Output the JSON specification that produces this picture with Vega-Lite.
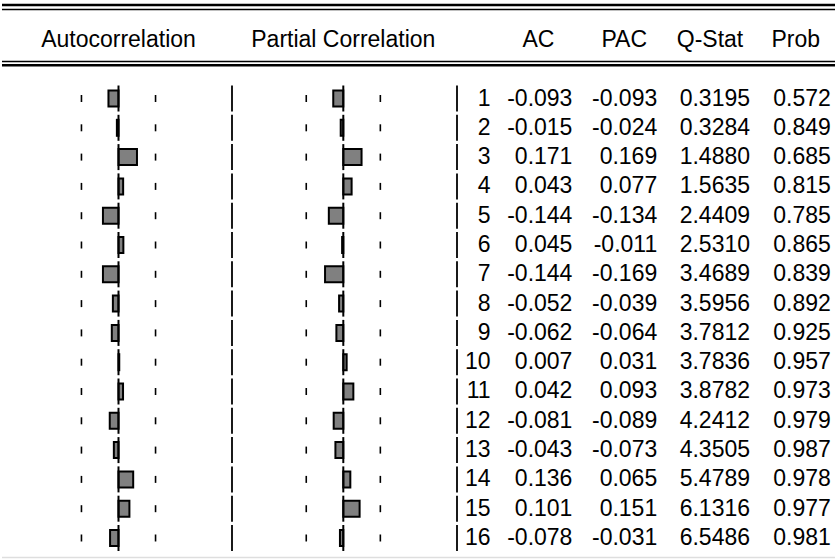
{
  "$schema": "https://vega.github.io/schema/vega-lite/v6.json",
  "padding": 0,
  "spacing": 0,
  "bounds": "flush",
  "background": "white",
  "config": {
    "view": {"stroke": null},
    "text": {"font": "Liberation Sans", "fontSize": 23, "color": "black"},
    "locale": {"number": {"decimal": ".", "thousands": ",", "grouping": [3], "currency": ["$", ""], "minus": "-"}}
  },
  "datasets": {
    "corr": [
      {"lag": 1, "AC": -0.093, "PAC": -0.093, "Q": 0.3195, "Prob": 0.572},
      {"lag": 2, "AC": -0.015, "PAC": -0.024, "Q": 0.3284, "Prob": 0.849},
      {"lag": 3, "AC": 0.171, "PAC": 0.169, "Q": 1.4880, "Prob": 0.685},
      {"lag": 4, "AC": 0.043, "PAC": 0.077, "Q": 1.5635, "Prob": 0.815},
      {"lag": 5, "AC": -0.144, "PAC": -0.134, "Q": 2.4409, "Prob": 0.785},
      {"lag": 6, "AC": 0.045, "PAC": -0.011, "Q": 2.5310, "Prob": 0.865},
      {"lag": 7, "AC": -0.144, "PAC": -0.169, "Q": 3.4689, "Prob": 0.839},
      {"lag": 8, "AC": -0.052, "PAC": -0.039, "Q": 3.5956, "Prob": 0.892},
      {"lag": 9, "AC": -0.062, "PAC": -0.064, "Q": 3.7812, "Prob": 0.925},
      {"lag": 10, "AC": 0.007, "PAC": 0.031, "Q": 3.7836, "Prob": 0.957},
      {"lag": 11, "AC": 0.042, "PAC": 0.093, "Q": 3.8782, "Prob": 0.973},
      {"lag": 12, "AC": -0.081, "PAC": -0.089, "Q": 4.2412, "Prob": 0.979},
      {"lag": 13, "AC": -0.043, "PAC": -0.073, "Q": 4.3505, "Prob": 0.987},
      {"lag": 14, "AC": 0.136, "PAC": 0.065, "Q": 5.4789, "Prob": 0.978},
      {"lag": 15, "AC": 0.101, "PAC": 0.151, "Q": 6.1316, "Prob": 0.977},
      {"lag": 16, "AC": -0.078, "PAC": -0.031, "Q": 6.5486, "Prob": 0.981}
    ],
    "one": [{}],
    "heads": [
      {"col": "AC", "label": "AC"},
      {"col": "PAC", "label": "PAC"},
      {"col": "Q", "label": "Q-Stat"},
      {"col": "Prob", "label": "Prob"}
    ]
  },
  "hconcat": [
    {
      "width": 230,
      "height": 559,
      "layer": [
        {
          "data": {"name": "one"},
          "mark": {"type": "rule", "strokeWidth": 2.5, "color": "black"},
          "encoding": {"y": {"datum": -2.191, "type": "quantitative", "scale": {"type": "linear", "domain": [-2.362, 16.717], "reverse": true, "nice": false, "zero": false, "padding": 0}, "axis": null}}
        },
        {"data": {"name": "one"}, "mark": {"type": "rule", "strokeWidth": 1.3, "color": "black"}, "encoding": {"y": {"datum": -2.038, "type": "quantitative"}}},
        {"data": {"name": "one"}, "mark": {"type": "rule", "strokeWidth": 1.3, "color": "black"}, "encoding": {"y": {"datum": -0.263, "type": "quantitative"}}},
        {"data": {"name": "one"}, "mark": {"type": "rule", "strokeWidth": 2.5, "color": "black"}, "encoding": {"y": {"datum": -0.133, "type": "quantitative"}}},
        {"data": {"name": "one"}, "mark": {"type": "rule", "strokeWidth": 1.5, "color": "#dedede"}, "encoding": {"y": {"datum": 16.67, "type": "quantitative"}}},
        {
          "data": {"name": "one"},
          "mark": {"type": "text", "baseline": "middle", "align": "center"},
          "encoding": {
            "x": {"datum": 0, "type": "quantitative", "scale": {"domain": [-1.0787, 1.0509], "nice": false, "zero": false, "padding": 0}, "axis": null},
            "y": {"datum": -1, "type": "quantitative"},
            "text": {"value": "Autocorrelation"}
          }
        },
        {
          "data": {"name": "corr"},
          "mark": {"type": "bar", "orient": "horizontal", "size": 16, "fill": "#808080", "stroke": "black", "strokeWidth": 2},
          "encoding": {
            "x": {"field": "AC", "type": "quantitative"},
            "x2": {"datum": 0},
            "y": {"field": "lag", "type": "quantitative"}
          }
        },
        {
          "data": {"name": "corr"},
          "mark": {"type": "tick", "orient": "vertical", "size": 26, "thickness": 2, "color": "black", "opacity": 1},
          "encoding": {"x": {"datum": 0, "type": "quantitative"}, "y": {"field": "lag", "type": "quantitative"}}
        },
        {
          "data": {"name": "corr"},
          "mark": {"type": "tick", "orient": "vertical", "size": 7, "thickness": 1.6, "color": "black", "opacity": 1},
          "encoding": {"x": {"datum": -0.343, "type": "quantitative"}, "y": {"field": "lag", "type": "quantitative"}}
        },
        {
          "data": {"name": "corr"},
          "mark": {"type": "tick", "orient": "vertical", "size": 7, "thickness": 1.6, "color": "black", "opacity": 1},
          "encoding": {"x": {"datum": 0.343, "type": "quantitative"}, "y": {"field": "lag", "type": "quantitative"}}
        },
        {
          "data": {"name": "corr"},
          "mark": {"type": "tick", "orient": "vertical", "size": 26, "thickness": 1.8, "color": "black", "opacity": 1},
          "encoding": {"x": {"datum": 1.0509, "type": "quantitative"}, "y": {"field": "lag", "type": "quantitative"}}
        }
      ]
    },
    {
      "width": 225,
      "height": 559,
      "layer": [
        {
          "data": {"name": "one"},
          "mark": {"type": "rule", "strokeWidth": 2.5, "color": "black"},
          "encoding": {"y": {"datum": -2.191, "type": "quantitative", "scale": {"type": "linear", "domain": [-2.362, 16.717], "reverse": true, "nice": false, "zero": false, "padding": 0}, "axis": null}}
        },
        {"data": {"name": "one"}, "mark": {"type": "rule", "strokeWidth": 1.3, "color": "black"}, "encoding": {"y": {"datum": -2.038, "type": "quantitative"}}},
        {"data": {"name": "one"}, "mark": {"type": "rule", "strokeWidth": 1.3, "color": "black"}, "encoding": {"y": {"datum": -0.263, "type": "quantitative"}}},
        {"data": {"name": "one"}, "mark": {"type": "rule", "strokeWidth": 2.5, "color": "black"}, "encoding": {"y": {"datum": -0.133, "type": "quantitative"}}},
        {"data": {"name": "one"}, "mark": {"type": "rule", "strokeWidth": 1.5, "color": "#dedede"}, "encoding": {"y": {"datum": 16.67, "type": "quantitative"}}},
        {
          "data": {"name": "one"},
          "mark": {"type": "text", "baseline": "middle", "align": "center"},
          "encoding": {
            "x": {"datum": 0, "type": "quantitative", "scale": {"domain": [-1.0306, 1.0528], "nice": false, "zero": false, "padding": 0}, "axis": null},
            "y": {"datum": -1, "type": "quantitative"},
            "text": {"value": "Partial Correlation"}
          }
        },
        {
          "data": {"name": "corr"},
          "mark": {"type": "bar", "orient": "horizontal", "size": 16, "fill": "#808080", "stroke": "black", "strokeWidth": 2},
          "encoding": {
            "x": {"field": "PAC", "type": "quantitative"},
            "x2": {"datum": 0},
            "y": {"field": "lag", "type": "quantitative"}
          }
        },
        {
          "data": {"name": "corr"},
          "mark": {"type": "tick", "orient": "vertical", "size": 26, "thickness": 2, "color": "black", "opacity": 1},
          "encoding": {"x": {"datum": 0, "type": "quantitative"}, "y": {"field": "lag", "type": "quantitative"}}
        },
        {
          "data": {"name": "corr"},
          "mark": {"type": "tick", "orient": "vertical", "size": 7, "thickness": 1.6, "color": "black", "opacity": 1},
          "encoding": {"x": {"datum": -0.343, "type": "quantitative"}, "y": {"field": "lag", "type": "quantitative"}}
        },
        {
          "data": {"name": "corr"},
          "mark": {"type": "tick", "orient": "vertical", "size": 7, "thickness": 1.6, "color": "black", "opacity": 1},
          "encoding": {"x": {"datum": 0.343, "type": "quantitative"}, "y": {"field": "lag", "type": "quantitative"}}
        },
        {
          "data": {"name": "corr"},
          "mark": {"type": "tick", "orient": "vertical", "size": 26, "thickness": 1.8, "color": "black", "opacity": 1},
          "encoding": {"x": {"datum": 1.0528, "type": "quantitative"}, "y": {"field": "lag", "type": "quantitative"}}
        }
      ]
    },
    {
      "width": 380,
      "height": 559,
      "layer": [
        {
          "data": {"name": "one"},
          "mark": {"type": "rule", "strokeWidth": 2.5, "color": "black"},
          "encoding": {"y": {"datum": -2.191, "type": "quantitative", "scale": {"type": "linear", "domain": [-2.362, 16.717], "reverse": true, "nice": false, "zero": false, "padding": 0}, "axis": null}}
        },
        {"data": {"name": "one"}, "mark": {"type": "rule", "strokeWidth": 1.3, "color": "black"}, "encoding": {"y": {"datum": -2.038, "type": "quantitative"}}},
        {"data": {"name": "one"}, "mark": {"type": "rule", "strokeWidth": 1.3, "color": "black"}, "encoding": {"y": {"datum": -0.263, "type": "quantitative"}}},
        {"data": {"name": "one"}, "mark": {"type": "rule", "strokeWidth": 2.5, "color": "black"}, "encoding": {"y": {"datum": -0.133, "type": "quantitative"}}},
        {"data": {"name": "one"}, "mark": {"type": "rule", "strokeWidth": 1.5, "color": "#dedede"}, "encoding": {"y": {"datum": 16.67, "type": "quantitative"}}},
        {
          "data": {"name": "heads"},
          "mark": {"type": "text", "baseline": "middle", "align": "center", "dx": -36},
          "encoding": {
            "x": {"field": "col", "type": "nominal", "scale": {"type": "point", "domain": ["lag", "AC", "PAC", "Q", "Prob"], "padding": 0.2145, "align": 0.859}, "axis": null},
            "y": {"datum": -1, "type": "quantitative"},
            "text": {"field": "label"}
          }
        },
        {
          "data": {"name": "corr"},
          "mark": {"type": "text", "baseline": "middle", "align": "right", "dx": 2},
          "encoding": {"x": {"datum": "lag", "type": "nominal"}, "y": {"field": "lag", "type": "quantitative"}, "text": {"field": "lag", "type": "quantitative", "format": "d"}}
        },
        {
          "data": {"name": "corr"},
          "mark": {"type": "text", "baseline": "middle", "align": "right", "dx": -2},
          "encoding": {"x": {"datum": "AC", "type": "nominal"}, "y": {"field": "lag", "type": "quantitative"}, "text": {"field": "AC", "type": "quantitative", "format": ".3f"}}
        },
        {
          "data": {"name": "corr"},
          "mark": {"type": "text", "baseline": "middle", "align": "right", "dx": -3},
          "encoding": {"x": {"datum": "PAC", "type": "nominal"}, "y": {"field": "lag", "type": "quantitative"}, "text": {"field": "PAC", "type": "quantitative", "format": ".3f"}}
        },
        {
          "data": {"name": "corr"},
          "mark": {"type": "text", "baseline": "middle", "align": "right", "dx": 4},
          "encoding": {"x": {"datum": "Q", "type": "nominal"}, "y": {"field": "lag", "type": "quantitative"}, "text": {"field": "Q", "type": "quantitative", "format": ".4f"}}
        },
        {
          "data": {"name": "corr"},
          "mark": {"type": "text", "baseline": "middle", "align": "right", "dx": -1},
          "encoding": {"x": {"datum": "Prob", "type": "nominal"}, "y": {"field": "lag", "type": "quantitative"}, "text": {"field": "Prob", "type": "quantitative", "format": ".3f"}}
        }
      ]
    }
  ]
}
